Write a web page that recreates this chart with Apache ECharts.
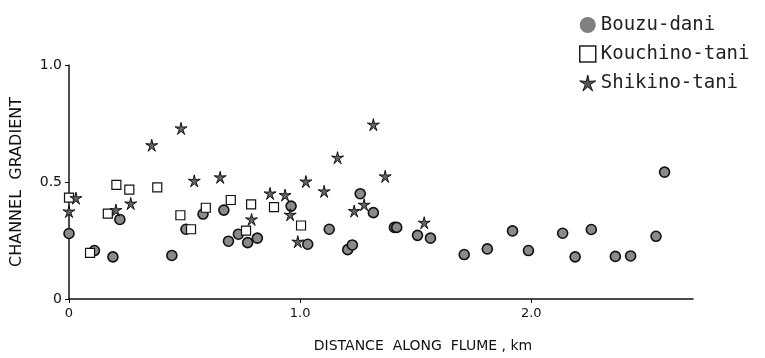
<!DOCTYPE html>
<html>
<head>
<meta charset="utf-8">
<script src="https://cdn.jsdelivr.net/npm/echarts@6/dist/echarts.min.js"></script>
<style>
  html, body { margin: 0; padding: 0; background: #fff; }
  #main { width: 765px; height: 358px; }
</style>
</head>
<body>
<div id="main"></div>
<script>
// Bouzu-dani (filled circles)
const bouzuX = [0.00, 0.11, 0.19, 0.22, 0.445, 0.506, 0.58, 0.67, 0.69, 0.733, 0.773, 0.815,
  0.961, 1.033, 1.126, 1.206, 1.226, 1.26, 1.317, 1.408, 1.418, 1.508, 1.564, 1.71, 1.81,
  1.919, 1.988, 2.136, 2.19, 2.26, 2.364, 2.43, 2.54, 2.577];
const bouzuY = [0.28, 0.207, 0.18, 0.34, 0.186, 0.298, 0.363, 0.38, 0.247, 0.277, 0.241, 0.26,
  0.397, 0.234, 0.298, 0.211, 0.231, 0.45, 0.369, 0.306, 0.306, 0.272, 0.26, 0.19, 0.214,
  0.291, 0.207, 0.281, 0.18, 0.297, 0.182, 0.184, 0.268, 0.542];
// Kouchino-tani (open squares)
const kouchinoX = [0.00, 0.091, 0.168, 0.205, 0.261, 0.382, 0.482, 0.528, 0.592, 0.70, 0.766, 0.788, 0.887, 1.004];
const kouchinoY = [0.433, 0.197, 0.365, 0.488, 0.467, 0.477, 0.358, 0.298, 0.39, 0.423, 0.292, 0.404, 0.393, 0.314];
// Shikino-tani (stars)
const shikinoX = [0.00, 0.03, 0.203, 0.267, 0.358, 0.485, 0.542, 0.654, 0.79, 0.87, 0.935, 0.957,
  0.99, 1.025, 1.104, 1.162, 1.234, 1.277, 1.317, 1.368, 1.537];
const shikinoY = [0.374, 0.431, 0.38, 0.408, 0.657, 0.729, 0.505, 0.52, 0.34, 0.451, 0.444, 0.36,
  0.245, 0.502, 0.46, 0.604, 0.376, 0.403, 0.745, 0.524, 0.326];

const xTicks = [0, 1, 2];
const yTicks = [0, 0.5, 1];

const starPath = 'path://M50 0L59 38L98 35L64 57L79 95L50 70L21 95L36 57L2 35L41 38Z';

function pairs(xs, ys) {
  return xs.map((x, i) => [x, ys[i]]);
}

const chart = echarts.init(document.getElementById('main'));

const option = {
  backgroundColor: '#fff',
  animation: false,
  legend: {
    orient: 'vertical',
    left: 574,
    top: 10,
    itemWidth: 16,
    itemHeight: 16,
    itemGap: 9,
    textStyle: {
      fontFamily: 'DejaVu Sans Mono',
      fontSize: 19,
      lineHeight: 20,
      color: '#222'
    },
    data: [
      { name: 'Bouzu-dani', icon: 'circle', itemStyle: { color: '#808080', borderWidth: 0 } },
      { name: 'Kouchino-tani', icon: 'rect', itemStyle: { color: '#fff', borderColor: '#222', borderWidth: 1.5 } },
      { name: 'Shikino-tani', icon: starPath, itemStyle: { color: '#555', borderColor: '#111', borderWidth: 1 } }
    ]
  },
  grid: { left: 69, right: 72, top: 65, bottom: 58 },
  xAxis: {
    type: 'value',
    min: 0,
    max: 2.7,
    interval: 1,
    name: 'DISTANCE  ALONG  FLUME , km',
    nameLocation: 'middle',
    nameGap: 40,
    nameTextStyle: {
      fontFamily: 'DejaVu Sans',
      fontSize: 14,
      color: '#111',
      padding: [0, 0, 0, 84]
    },
    axisLine: { lineStyle: { color: '#111', width: 1.5 } },
    axisTick: { customValues: xTicks, length: 4, inside: false, lineStyle: { color: '#111' } },
    axisLabel: {
      customValues: xTicks,
      margin: 8,
      fontFamily: 'DejaVu Sans',
      fontSize: 13,
      color: '#111',
      formatter: v => (v === 0 ? '0' : v.toFixed(1))
    },
    splitLine: { show: false }
  },
  yAxis: {
    type: 'value',
    min: 0,
    max: 1,
    interval: 0.5,
    name: 'CHANNEL  GRADIENT',
    nameLocation: 'middle',
    nameRotate: 90,
    nameGap: 44,
    nameTextStyle: {
      fontFamily: 'DejaVu Sans',
      fontSize: 16,
      color: '#111'
    },
    axisLine: { show: true, lineStyle: { color: '#111', width: 1.5 } },
    axisTick: { show: true, customValues: yTicks, length: 4, lineStyle: { color: '#111' } },
    axisLabel: {
      customValues: yTicks,
      margin: 7,
      fontFamily: 'DejaVu Sans',
      fontSize: 14,
      color: '#111',
      formatter: v => (v === 0 ? '0' : v.toFixed(1))
    },
    splitLine: { show: false }
  },
  series: [
    {
      name: 'Bouzu-dani',
      type: 'scatter',
      symbol: 'circle',
      symbolSize: 10,
      itemStyle: { color: '#8a8a8a', borderColor: '#111', borderWidth: 1.6, opacity: 1 },
      data: pairs(bouzuX, bouzuY)
    },
    {
      name: 'Kouchino-tani',
      type: 'scatter',
      symbol: 'rect',
      symbolSize: 9,
      itemStyle: { color: '#fff', borderColor: '#111', borderWidth: 1.2, opacity: 1 },
      data: pairs(kouchinoX, kouchinoY)
    },
    {
      name: 'Shikino-tani',
      type: 'scatter',
      symbol: starPath,
      symbolSize: 12,
      itemStyle: { color: '#666', borderColor: '#111', borderWidth: 1, opacity: 1 },
      data: pairs(shikinoX, shikinoY)
    }
  ]
};

chart.setOption(option);
window.addEventListener('resize', () => {
  chart.resize();
});
</script>
</body>
</html>
